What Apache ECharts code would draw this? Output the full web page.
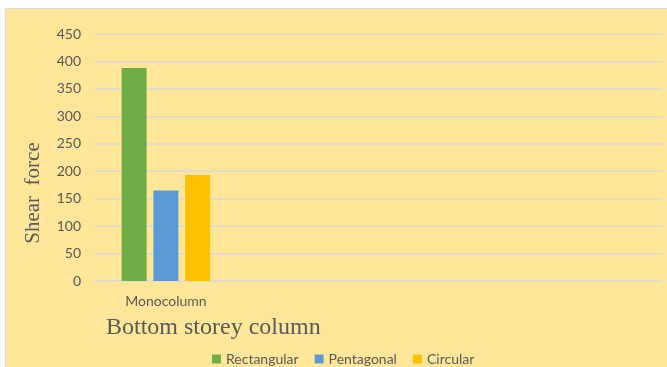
<!DOCTYPE html>
<html>
<head>
<meta charset="utf-8">
<style>
  html, body { margin: 0; padding: 0; background: #ffffff; }
  #chart { width: 667px; height: 367px; }
</style>
<script src="https://cdn.jsdelivr.net/npm/echarts@6/dist/echarts.min.js"></script>
</head>
<body>
<div id="chart"></div>
<script>
// Shear force in the bottom storey column, by column cross-section
const categories = ['Monocolumn', '', '', ''];
const seriesNames = ['Rectangular', 'Pentagonal', 'Circular'];
const rectangular = [388];
const pentagonal = [165];
const circular = [193];
const yTicks = [0, 50, 100, 150, 200, 250, 300, 350, 400, 450];

const colors = ['#70AD47', '#5B9BD5', '#FFC000'];
const textGray = '#595959';
const uiFont = 'Lato, "Open Sans", sans-serif';
const serifFont = '"Liberation Serif", "DejaVu Serif", serif';

const chart = echarts.init(document.getElementById('chart'), null, { renderer: 'canvas' });

const values = [rectangular, pentagonal, circular];

chart.setOption({
  backgroundColor: '#ffffff',
  animation: false,
  color: colors,
  graphic: [
    {
      type: 'rect',
      z: -10,
      shape: { x: 5.5, y: 8.5, width: 670, height: 370 },
      style: { fill: '#FFE699', stroke: '#D9D9D9', lineWidth: 1 }
    },
    {
      type: 'text',
      x: 33,
      y: 193,
      rotation: Math.PI / 2,
      style: {
        text: 'Shear  force',
        font: '21px ' + serifFont,
        fill: textGray,
        align: 'center',
        verticalAlign: 'middle'
      }
    },
    {
      type: 'text',
      x: 106,
      y: 328,
      style: {
        text: 'Bottom storey column',
        font: '24px ' + serifFont,
        fill: textGray,
        align: 'left',
        verticalAlign: 'middle'
      }
    }
  ],
  grid: { left: 95, right: 5, top: 34, bottom: 86, containLabel: false },
  legend: {
    data: seriesNames,
    left: 207,
    top: 347,
    itemWidth: 9,
    itemHeight: 9,
    itemGap: 16,
    icon: 'rect',
    textStyle: { color: textGray, fontFamily: uiFont, fontSize: 14 }
  },
  xAxis: {
    type: 'category',
    data: categories,
    axisLine: { show: false },
    axisTick: { show: false },
    axisLabel: { color: textGray, fontFamily: uiFont, fontSize: 14, margin: 13 }
  },
  yAxis: {
    type: 'value',
    min: yTicks[0],
    max: yTicks[yTicks.length - 1],
    interval: yTicks[1] - yTicks[0],
    axisLine: { show: false },
    axisTick: { show: false },
    axisLabel: { color: textGray, fontFamily: uiFont, fontSize: 14, margin: 14 },
    splitLine: { lineStyle: { color: '#D9D9D9', width: 1.5 } }
  },
  series: seriesNames.map((name, i) => ({
    name: name,
    type: 'bar',
    data: values[i],
    barWidth: 25,
    barGap: '27%',
    itemStyle: { color: colors[i] }
  }))
});
</script>
</body>
</html>
